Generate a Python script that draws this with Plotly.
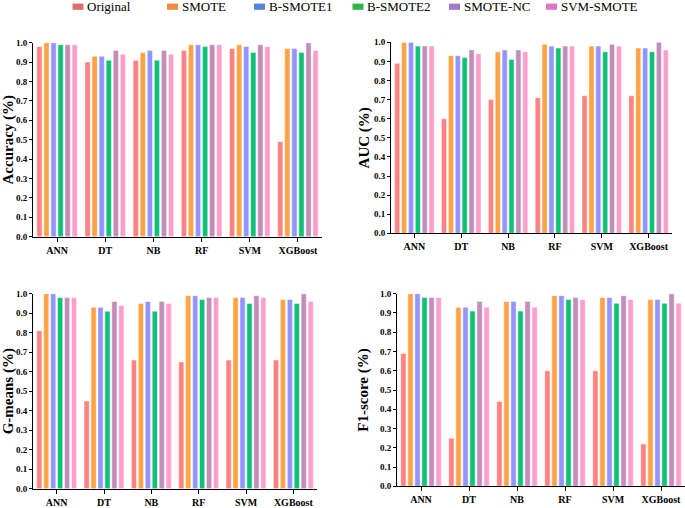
import plotly.graph_objects as go

models = ["ANN", "DT", "NB", "RF", "SVM", "XGBoost"]
methods = ["Original", "SMOTE", "B-SMOTE1", "B-SMOTE2", "SMOTE-NC", "SVM-SMOTE"]
colors = ["#FF8282", "#FFA345", "#9494FF", "#0DC177", "#C38DB9", "#FF9DCB"]
legend_colors = ["#E36B6B", "#F28B3F", "#5B80D8", "#2FB34B", "#A27BC8", "#E271C9"]

# values per method, across models
accuracy = {
    "Original":  [0.98, 0.90, 0.91, 0.96, 0.97, 0.49],
    "SMOTE":     [1.00, 0.93, 0.95, 0.99, 0.99, 0.97],
    "B-SMOTE1":  [1.00, 0.93, 0.96, 0.99, 0.98, 0.97],
    "B-SMOTE2":  [0.99, 0.91, 0.91, 0.98, 0.95, 0.95],
    "SMOTE-NC":  [0.99, 0.96, 0.96, 0.99, 0.99, 1.00],
    "SVM-SMOTE": [0.99, 0.94, 0.94, 0.99, 0.98, 0.96],
}
auc = {
    "Original":  [0.89, 0.60, 0.70, 0.71, 0.72, 0.72],
    "SMOTE":     [1.00, 0.93, 0.95, 0.99, 0.98, 0.97],
    "B-SMOTE1":  [1.00, 0.93, 0.96, 0.98, 0.98, 0.97],
    "B-SMOTE2":  [0.98, 0.92, 0.91, 0.97, 0.95, 0.95],
    "SMOTE-NC":  [0.98, 0.96, 0.96, 0.98, 0.99, 1.00],
    "SVM-SMOTE": [0.98, 0.94, 0.95, 0.98, 0.98, 0.96],
}
gmeans = {
    "Original":  [0.81, 0.45, 0.66, 0.65, 0.66, 0.66],
    "SMOTE":     [1.00, 0.93, 0.95, 0.99, 0.98, 0.97],
    "B-SMOTE1":  [1.00, 0.93, 0.96, 0.99, 0.98, 0.97],
    "B-SMOTE2":  [0.98, 0.91, 0.91, 0.97, 0.95, 0.95],
    "SMOTE-NC":  [0.98, 0.96, 0.96, 0.98, 0.99, 1.00],
    "SVM-SMOTE": [0.98, 0.94, 0.95, 0.98, 0.98, 0.96],
}
f1 = {
    "Original":  [0.69, 0.25, 0.44, 0.60, 0.60, 0.22],
    "SMOTE":     [1.00, 0.93, 0.96, 0.99, 0.98, 0.97],
    "B-SMOTE1":  [1.00, 0.93, 0.96, 0.99, 0.98, 0.97],
    "B-SMOTE2":  [0.98, 0.91, 0.91, 0.97, 0.95, 0.95],
    "SMOTE-NC":  [0.98, 0.96, 0.96, 0.98, 0.99, 1.00],
    "SVM-SMOTE": [0.98, 0.93, 0.93, 0.97, 0.97, 0.95],
}
panels = [
    ("Accuracy (%)", accuracy),
    ("AUC (%)", auc),
    ("G-means (%)", gmeans),
    ("F1-score (%)", f1),
]

W, H = 685, 508
# pixel boxes of the four plot areas: (x0, x1, ytop, ybottom, title standoff)
boxes = [
    (33, 322, 42.7, 236.7, 3),
    (391, 672, 42.3, 233.3, 0),
    (33, 317, 293.7, 488.7, 3),
    (397, 685, 293.7, 486.3, 7),
]
# legend entry left edges (px)
legend_x = [72.5, 167, 254, 352.5, 449, 546]

FONT = "Liberation Serif"
fig = go.Figure()
layout = {}
for i, ((title, data), (x0, x1, yt, yb, so)) in enumerate(zip(panels, boxes)):
    ax = "" if i == 0 else str(i + 1)
    for j, m in enumerate(methods):
        fig.add_trace(go.Bar(
            x=models, y=data[m], name=m,
            marker=dict(color=colors[j], line=dict(color="white", width=0.5)),
            xaxis="x" + ax, yaxis="y" + ax,
            offsetgroup=str(j), legendgroup=m, showlegend=False,
        ))
    layout["xaxis" + ax] = dict(
        domain=[x0 / W, min(x1 / W, 1.0)], anchor="y" + ax,
        showline=True, linecolor="black", linewidth=1,
        ticks="outside", ticklen=4, tickcolor="black",
        tickfont=dict(family=FONT, size=10, color="black", weight="bold"),
        showgrid=False, zeroline=False,
    )
    layout["yaxis" + ax] = dict(
        domain=[1 - yb / H, 1 - yt / H], anchor="x" + ax,
        range=[0, 1.0], dtick=0.1, tickformat=".1f",
        showline=True, linecolor="black", linewidth=1,
        ticks="outside", ticklen=3, tickcolor="black",
        tickfont=dict(family=FONT, size=9, color="black", weight="bold"),
        title=dict(text=title, font=dict(family=FONT, size=15, color="black", weight="bold"), standoff=so),
        showgrid=False, zeroline=False,
    )

# legend drawn as swatches + real text labels
shapes = []
annotations = []
for j, m in enumerate(methods):
    lx = legend_x[j]
    shapes.append(dict(
        type="rect", xref="paper", yref="paper",
        x0=lx / W, x1=(lx + 11) / W, y0=1 - 9.8 / H, y1=1 - 3.6 / H,
        fillcolor=legend_colors[j], line=dict(width=0),
    ))
    annotations.append(dict(
        text=m, xref="paper", yref="paper", x=(lx + 12.5) / W, y=1 - 7 / H,
        xanchor="left", yanchor="middle", showarrow=False,
        font=dict(family=FONT, size=13, color="black"),
    ))

fig.update_layout(
    **layout,
    shapes=shapes, annotations=annotations,
    width=W, height=H,
    margin=dict(l=0, r=0, t=0, b=0, autoexpand=False),
    plot_bgcolor="white", paper_bgcolor="white",
    barmode="group", bargap=0.12, bargroupgap=0.25,
    font=dict(family=FONT, color="black"),
    showlegend=False,
)
fig.write_html(
    "out.html",
    config={"displayModeBar": False},
    post_script="document.body.style.margin='0';document.body.style.overflow='hidden';",
)
